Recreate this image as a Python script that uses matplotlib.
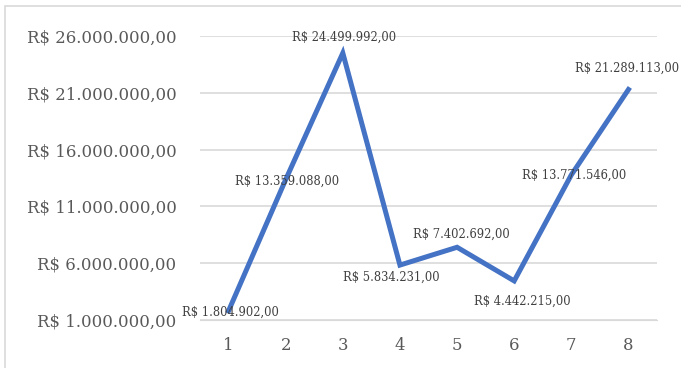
import matplotlib.pyplot as plt
from matplotlib.patches import Rectangle

# data
periods = [1, 2, 3, 4, 5, 6, 7, 8]
valores = [1804902, 13359088, 24499992, 5834231, 7402692, 4442215, 13771546, 21289113]
yticks = [1000000, 6000000, 11000000, 16000000, 21000000, 26000000]

# label offsets (points), just to place them like the original
offsets = [(1, -1), (1, -1), (1, 11), (-6, -9), (3, 9), (6, -15), (2, 0), (-1, 15)]


def brl(v):
    s = "{:,.2f}".format(v)
    s = s.replace(",", "X").replace(".", ",").replace("X", ".")
    return "R$ " + s


plt.rcParams['font.family'] = ['DejaVu Serif']

fig = plt.figure(figsize=(6.81, 3.68), dpi=100)
ax = fig.add_axes([200 / 681, 1 - 320 / 368, 457 / 681, 284 / 368])

# chart border
fig.patches.append(Rectangle((5 / 681, -0.1), 1.2, 1 - 6 / 368 + 0.1,
                             transform=fig.transFigure, fill=False,
                             edgecolor="#D9D9D9", linewidth=1.2))

ax.plot(periods, valores, color="#4472C4", linewidth=3.6, solid_joinstyle="miter", zorder=3)

for x, v, off in zip(periods, valores, offsets):
    ax.annotate(brl(v), (x, v), xytext=off, textcoords="offset points",
                ha="center", va="center", fontsize=8.3, color="#404040", zorder=4)

ax.set_xlim(0.5, 8.5)
ax.set_ylim(1000000, 26000000)
ax.set_xticks(periods)
ax.set_yticks(yticks)
ax.set_yticklabels([brl(t) for t in yticks])
ax.grid(axis="y", color="#D9D9D9", linewidth=1.2)
ax.set_axisbelow(True)
for s in ax.spines.values():
    s.set_visible(False)
ax.spines['bottom'].set_visible(True)
ax.spines['bottom'].set_color("#D9D9D9")
ax.tick_params(length=0, colors="#595959", labelsize=11.9)
ax.tick_params(axis="y", pad=17)
ax.tick_params(axis="x", pad=12)

fig.savefig("out.png", dpi=100)
